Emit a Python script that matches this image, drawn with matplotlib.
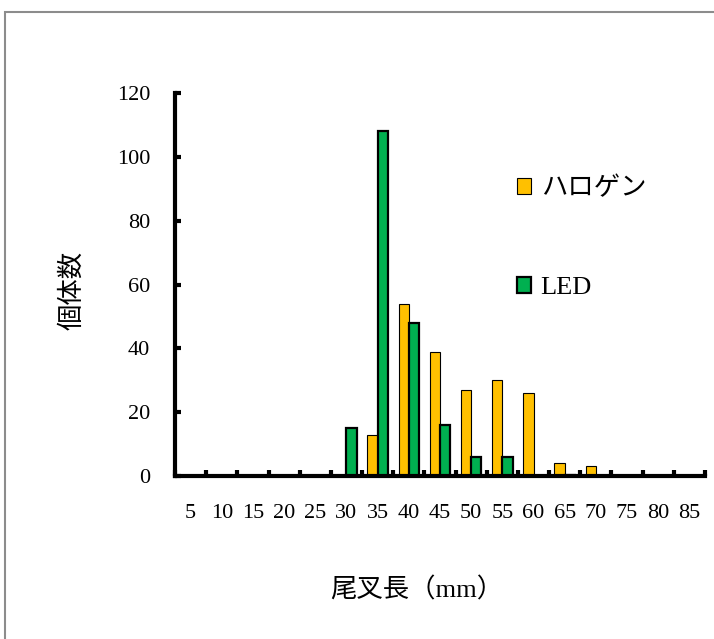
import numpy as np
import matplotlib
matplotlib.use('Agg')
import matplotlib.pyplot as plt
from matplotlib.patches import Rectangle

plt.rcParams['font.family'] = ['Liberation Serif', 'Noto Sans CJK JP', 'DejaVu Sans']

###########
# DATA
###########
lengths = [5, 10, 15, 20, 25, 30, 35, 40, 45, 50, 55, 60, 65, 70, 75, 80, 85]
halogen = [0, 0, 0, 0, 0, 0, 13, 54, 39, 27, 30, 26, 4, 3, 0, 0, 0]
led = [0, 0, 0, 0, 0, 15, 108, 48, 16, 6, 6, 0, 0.4, 0, 0, 0, 0]
y_ticks = [0, 20, 40, 60, 80, 100, 120]

halogen_colour = '#FFC000'
led_colour = '#00B050'

###########
# CREATING THE GRAPH
###########
fig = plt.figure(figsize=(7.14, 6.39), dpi=100)
ax = fig.add_axes([175 / 714, 1 - 476 / 639, 530 / 714, 383 / 639])

x = np.arange(len(lengths))
bar_w = 0.33
ax.bar(x - bar_w / 2, halogen, width=bar_w, color=halogen_colour,
       edgecolor='black', linewidth=0.8, label='ハロゲン', zorder=2)
ax.bar(x + bar_w / 2, led, width=bar_w, color=led_colour,
       edgecolor='black', linewidth=1.6, label='LED', zorder=2)

ax.set_xlim(-0.5, len(lengths) - 0.5)
ax.set_ylim(0, 120)

# Formatting
for side in ['top', 'right']:
    ax.spines[side].set_visible(False)
for side in ['left', 'bottom']:
    ax.spines[side].set_linewidth(3)
    ax.spines[side].set_zorder(3)

ax.set_yticks(y_ticks)
ax.set_yticklabels([str(v) for v in y_ticks], fontsize=16)
ax.tick_params(axis='y', direction='in', length=4, width=3, pad=18)

ax.set_xticks(x)
ax.set_xticklabels([str(v) for v in lengths], fontsize=16)
ax.tick_params(axis='x', which='major', length=0, pad=20)
ax.set_xticks(np.arange(-0.5, len(lengths), 1), minor=True)
ax.tick_params(axis='x', which='minor', direction='in', length=4, width=3)

ax.set_ylabel('個体数', fontsize=19)
ax.yaxis.set_label_coords(-0.172, 0.485)
ax.set_xlabel('尾叉長（mm）', fontsize=19)
ax.xaxis.set_label_coords(0.457, -0.265)

leg = ax.legend(loc='upper left', bbox_to_anchor=(0.625, 0.808), frameon=False,
                fontsize=19, handlelength=0.55, handleheight=0.55,
                handletextpad=0.35, labelspacing=2.9, borderaxespad=0)

# Grey border round the chart area
fig.add_artist(Rectangle((5 / 714, -0.1), 1.2, 1 - 12 / 639 + 0.1,
                         transform=fig.transFigure, fill=False,
                         edgecolor='#8c8c8c', linewidth=1.5))

##########
# SAVING THE GRAPH
##########
fig.savefig('out.png', dpi=100)
plt.close(fig)
